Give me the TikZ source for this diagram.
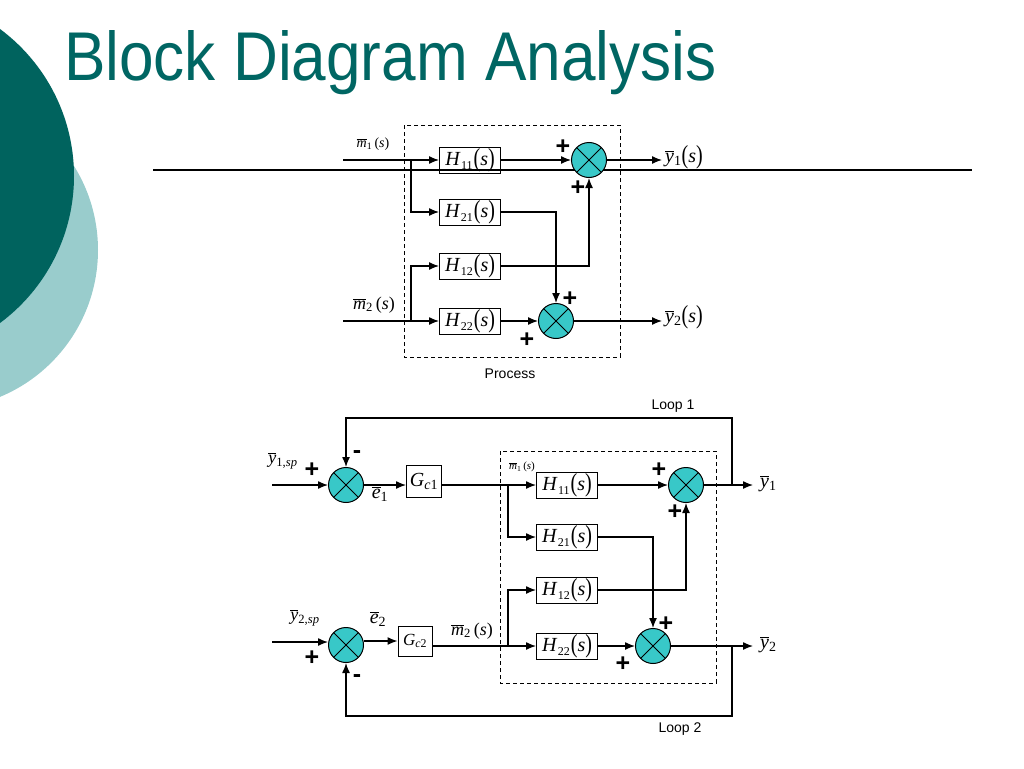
\documentclass[tikz,border=0pt]{standalone}
\usepackage{fontspec}
\setmainfont{Liberation Sans}
\newfontfamily\tnr{Liberation Serif}
\usetikzlibrary{arrows.meta}
\definecolor{darkteal}{RGB}{0,99,94}
\definecolor{lightteal}{RGB}{153,204,204}
\definecolor{titleteal}{RGB}{0,102,99}
\definecolor{sumfill}{RGB}{56,200,200}
\newcommand\bigpar[1]{\raisebox{-1pt}{\scalebox{1}[1.3]{#1}}}
\newcommand\ovl[1]{\leavevmode\vbox{\hrule height 0.7pt \kern1.2pt\hbox{\textit{#1}}}}
\newcommand\Hlab[1]{\textit{H}\kern0.5pt\raisebox{-4pt}{\fontsize{12}{12}\selectfont #1}\kern1pt\bigpar{(}\textit{s}\bigpar{)}}
\begin{document}
\begin{tikzpicture}[x=1pt,y=-1pt,
 blk/.style={draw, line width=1pt, minimum width=61pt, minimum height=26pt, inner sep=0pt, font=\tnr\fontsize{20}{20}\selectfont},
 gblk/.style={draw, line width=1pt, minimum width=35pt, minimum height=32pt, inner sep=0pt, font=\tnr\fontsize{20}{20}\selectfont},
 sumc/.style={circle, draw, line width=1pt, fill=sumfill, minimum size=35pt, inner sep=0pt,
   path picture={\draw[line width=1pt] (path picture bounding box.north west) -- (path picture bounding box.south east)
     (path picture bounding box.north east) -- (path picture bounding box.south west);}},
 wire/.style={line width=1.3pt},
 arr/.style={wire, -{Latex[length=10pt,width=8pt]}},
 dbox/.style={line width=1pt, dash pattern=on 4pt off 3pt},
 pm/.style={font=\bfseries\fontsize{25}{25}\selectfont, inner sep=0pt},
 lab/.style={font=\tnr\fontsize{20}{20}\selectfont, inner sep=0pt},
 slab/.style={font=\tnr\fontsize{14}{14}\selectfont, inner sep=0pt},
 txt/.style={font=\fontsize{14}{14}\selectfont, inner sep=0pt}
]
\useasboundingbox (0,0) rectangle (1024,768);
% background
\fill[lightteal] (-61,250) circle[radius=159pt];
\fill[darkteal] (-109,176) circle[radius=183pt];
\node[anchor=base west, text=titleteal, inner sep=0pt, font=\fontsize{69}{69}\selectfont] (title) at (64,81) {\scalebox{0.9}[1]{Block Diagram Analysis}};

% ---------- top diagram ----------
\coordinate (la) at (153,170);
\coordinate (lb) at (972,170);
\draw[wire] (la) -- (lb);
\draw[dbox] (404,125) rectangle (620,357);
\node[blk] (h11) at (470,160) {\Hlab{11}};
\node[blk] (h21) at (470,212) {\Hlab{21}};
\node[blk] (h12) at (470,266) {\Hlab{12}};
\node[blk] (h22) at (470,321) {\Hlab{22}};
\node[sumc] (s1) at (589,160) {};
\node[sumc] (s2) at (556,321) {};
\coordinate (m1in) at (343,160);
\coordinate (j1) at (411,160);
\coordinate (m2in) at (343,321);
\coordinate (j2) at (411,321);
\coordinate (y1o) at (662,160);
\coordinate (y2o) at (662,321);
\draw[arr] (m1in) -- (h11);
\draw[arr] (j1) |- (h21);
\draw[arr] (m2in) -- (h22);
\draw[arr] (j2) |- (h12);
\draw[arr] (h11) -- (s1);
\draw[arr] (h22) -- (s2);
\draw[arr] (h21.east) -| (s2.north);
\draw[arr] (h12.east) -| (s1.south);
\draw[arr] (s1) -- (y1o);
\draw[arr] (s2) -- (y2o);
\node[slab] (m1l) at (373,144) {\ovl{m}\textsubscript{1}\,(\textit{s})};
\node[lab, font=\tnr\fontsize{18}{18}\selectfont] (m2l) at (374,305) {\ovl{m}\textsubscript{2}\,(\textit{s})};
\node[lab, anchor=west] (y1l) at (665,157) {\ovl{y}\textsubscript{1}\bigpar{(}\textit{s}\bigpar{)}};
\node[lab, anchor=west] (y2l) at (665,317) {\ovl{y}\textsubscript{2}\bigpar{(}\textit{s}\bigpar{)}};
\node[pm] (p1) at (563,147) {+};
\node[pm] (p2) at (578,188) {+};
\node[pm] (p3) at (570,299) {+};
\node[pm] (p4) at (527,340) {+};
\node[txt] (proc) at (510,374) {Process};

% ---------- bottom diagram ----------
\draw[dbox] (500,451) rectangle (716,683);
\node[sumc] (sA) at (346,485) {};
\node[sumc] (sD) at (346,645) {};
\node[gblk] (gc1) at (424,481) {\textit{G}\textsubscript{\textit{c}1}};
\node[gblk, minimum width=34pt, minimum height=30pt, font=\tnr\fontsize{17}{17}\selectfont] (gc2) at (415,641) {\textit{G}\textsubscript{\textit{c}2}};
\node[blk] (h11b) at (567,485) {\Hlab{11}};
\node[blk] (h21b) at (567,537) {\Hlab{21}};
\node[blk] (h12b) at (567,590) {\Hlab{12}};
\node[blk] (h22b) at (567,646) {\Hlab{22}};
\node[sumc] (sB) at (686,485) {};
\node[sumc] (sC) at (653,646) {};
\coordinate (in1) at (272,485);
\coordinate (in2) at (272,642);
\coordinate (jb1) at (508,485);
\coordinate (jb2) at (508,646);
\coordinate (o1) at (753,485);
\coordinate (o2) at (753,646);
\coordinate (l1a) at (732,485);
\coordinate (l1top) at (732,418);
\coordinate (l2a) at (732,646);
\coordinate (l2bot) at (732,716);
\draw[arr] (in1) -- (sA);
\draw[arr] (in2) -- (sD.west |- in2);
\draw[arr] (sA) -- (gc1.west |- sA);
\draw[arr] (sD.east |- gc2) -- (gc2);
\draw[arr] (gc1.east |- h11b) -- (h11b);
\draw[arr] (gc2.east |- h22b) -- (h22b);
\draw[arr] (jb1) |- (h21b);
\draw[arr] (jb2) |- (h12b);
\draw[arr] (h11b) -- (sB);
\draw[arr] (h22b) -- (sC);
\draw[arr] (h21b.east) -| (sC.north);
\draw[arr] (h12b.east) -| (sB.south);
\draw[arr] (sB) -- (o1);
\draw[arr] (sC) -- (o2);
\draw[arr] (l1a) -- (l1top) -| (sA.north);
\draw[arr] (l2a) -- (l2bot) -| (sD.south);
\node[lab, font=\tnr\fontsize{18}{18}\selectfont] (y1sp) at (283,461) {\ovl{y}\textsubscript{1,\textit{sp}}};
\node[lab, font=\tnr\fontsize{18}{18}\selectfont] (y2sp) at (305,618) {\ovl{y}\textsubscript{2,\textit{sp}}};
\node[lab] (e1) at (380,494) {\ovl{e}\textsubscript{1}};
\node[lab] (e2) at (378,619) {\ovl{e}\textsubscript{2}};
\node[lab, font=\tnr\fontsize{11}{11}\selectfont] (m1s) at (522,467) {\ovl{m}\textsubscript{1}\,(\textit{s})};
\node[lab, font=\tnr\fontsize{18}{18}\selectfont] (m2s) at (472,631) {\ovl{m}\textsubscript{2}\,(\textit{s})};
\node[lab, anchor=west] (y1b) at (760,484) {\ovl{y}\textsubscript{1}};
\node[lab, anchor=west] (y2b) at (760,645) {\ovl{y}\textsubscript{2}};
\node[pm] (q1) at (312,470) {+};
\node[pm] (q2) at (357,455) {-};
\node[pm] (q3) at (312,658) {+};
\node[pm] (q4) at (357,679) {-};
\node[pm] (q5) at (659,470) {+};
\node[pm] (q6) at (675,512) {+};
\node[pm] (q7) at (666,624) {+};
\node[pm] (q8) at (623,664) {+};
\node[txt] (loop1) at (673,406) {Loop 1};
\node[txt] (loop2) at (680,729) {Loop 2};
\end{tikzpicture}
\end{document}
